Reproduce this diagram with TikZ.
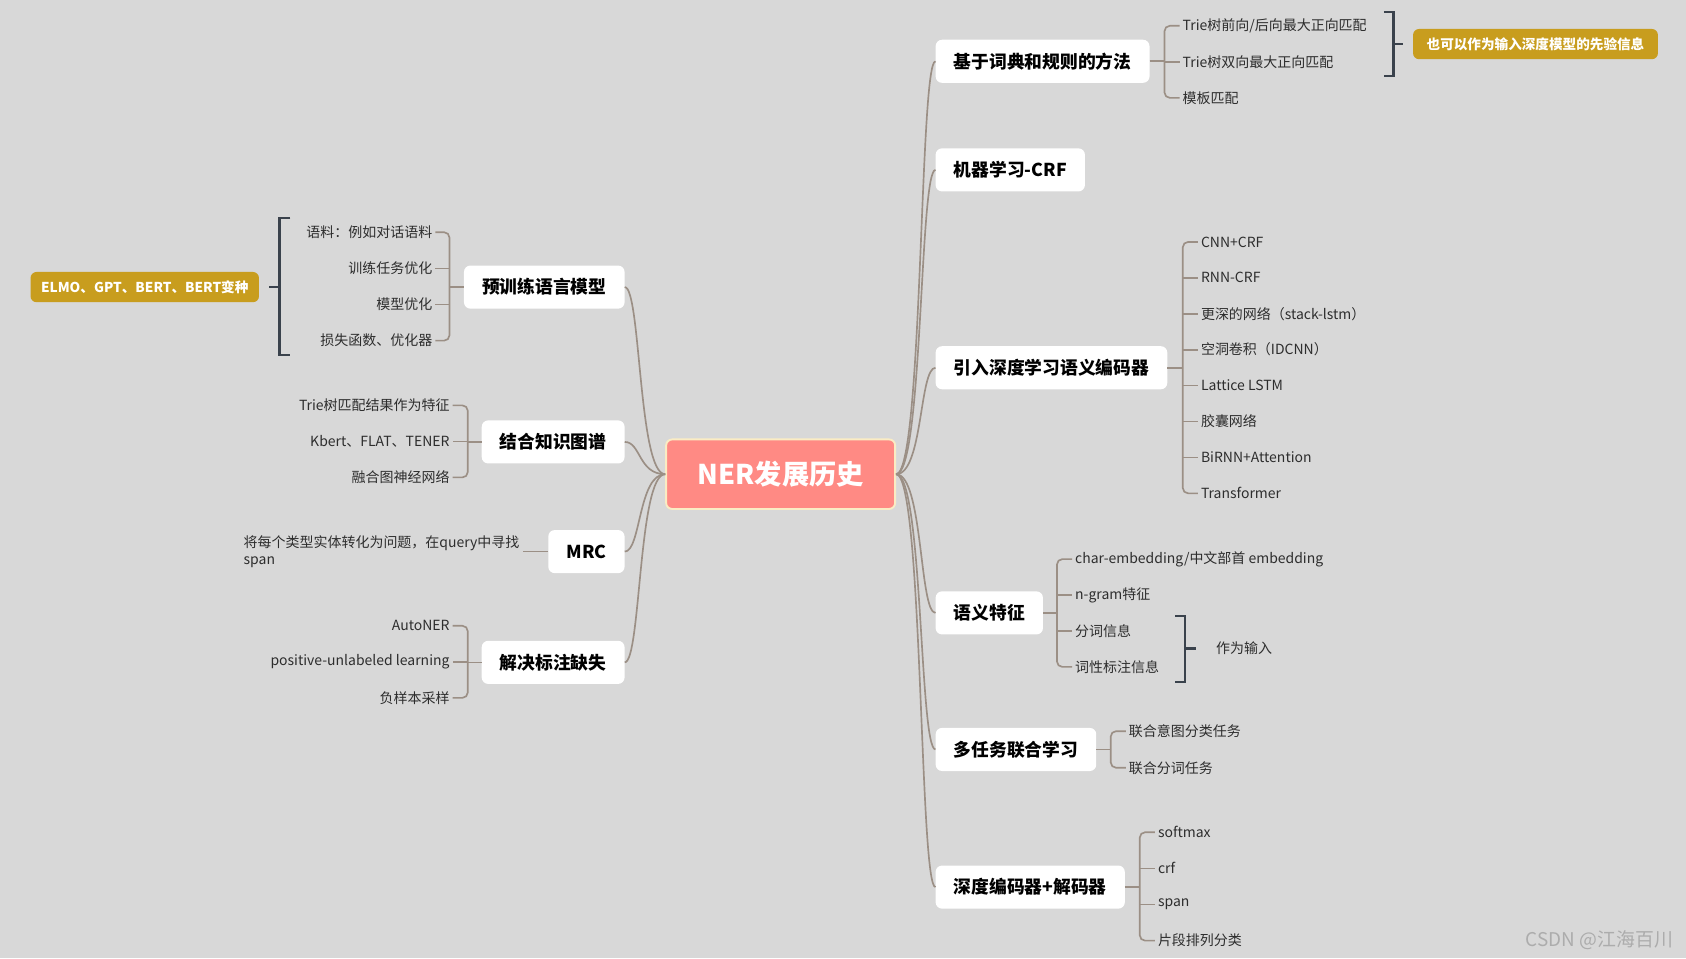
\documentclass[tikz,border=0pt]{standalone}
\usepackage{fontspec}
\setmainfont{Noto Sans CJK SC}
\usetikzlibrary{calc}
\definecolor{bg}{RGB}{216,216,216}
\definecolor{rootfill}{RGB}{255,138,132}
\definecolor{rootline}{RGB}{250,236,196}
\definecolor{linkcol}{RGB}{155,143,133}
\definecolor{sumcol}{RGB}{58,66,76}
\definecolor{gold}{RGB}{200,157,30}
\definecolor{leafcol}{RGB}{45,45,45}
\definecolor{wmcol}{RGB}{172,172,172}
\tikzset{
  root/.style = {fill=rootfill, draw=rootline, line width=2.5pt, rounded corners=8pt,
    minimum width=303pt, minimum height=92pt, text=white,
    font=\fontsize{36}{40}\selectfont\bfseries},
  branch/.style = {fill=white, rounded corners=8.5pt, minimum height=57pt,
    inner xsep=24pt, text=black, font=\fontsize{23.5}{28}\selectfont\bfseries},
  leaf/.style = {inner xsep=4pt, inner ysep=0pt, text=leafcol,
    font=\fontsize{18.5}{22.8}\selectfont},
  tag/.style = {fill=gold, rounded corners=8pt, minimum height=40pt, inner xsep=18pt,
    text=white, font=\fontsize{18}{22}\selectfont\bfseries},
  link/.style = {draw=linkcol, line width=2.2pt, rounded corners=7pt},
  summary/.style = {draw=sumcol, line width=3pt},
  wmark/.style = {text=wmcol, inner sep=0pt, font=\fontsize{25}{28}\selectfont}
}

\begin{document}
\begin{tikzpicture}[x=0.05cm,y=-0.05cm]
  % background
  \fill[bg] (0,0) rectangle (1568,891);
  \useasboundingbox (0,0) rectangle (1568,891);
  % root
  \node[root] (root) at (726,441) {NER发展历史};
  % main branches, right
  \node[branch,anchor=west] (dict)   at (870,57)  {基于词典和规则的方法};
  \node[branch,anchor=west] (crf)    at (870,158) {机器学习-CRF};
  \node[branch,anchor=west] (deep)   at (870,342) {引入深度学习语义编码器};
  \node[branch,anchor=west] (feat)   at (870,570) {语义特征};
  \node[branch,anchor=west] (multi)  at (870,697) {多任务联合学习};
  \node[branch,anchor=west] (encdec) at (870,825) {深度编码器+解码器};
  % main branches, left
  \node[branch,anchor=east] (plm)  at (581,267) {预训练语言模型};
  \node[branch,anchor=east] (kg)   at (581,411) {结合知识图谱};
  \node[branch,anchor=east] (mrc)  at (581,513) {MRC};
  \node[branch,anchor=east] (miss) at (581,616) {解决标注缺失};
  % curves from root
  \foreach \b in {dict,crf,deep,feat,multi,encdec}
    \draw[link] (root.east) .. controls ($(root.east)+(25,0)$) and ($(\b.west)+(-15,0)$) .. (\b.west);
  \foreach \b in {plm,kg,mrc,miss}
    \draw[link] (root.west) .. controls ($(root.west)+(-25,0)$) and ($(\b.east)+(15,0)$) .. (\b.east);

  % leaves, right
  \foreach \t [count=\i] in {Trie树前向/后向最大正向匹配,Trie树双向最大正向匹配,模板匹配}
    \node[leaf,anchor=west] (dict\i) at (1097,{24+33.5*(\i-1)}) {\t};
  \foreach \t [count=\i] in {CNN+CRF,RNN-CRF,更深的网络（stack-lstm）,空洞卷积（IDCNN）,Lattice LSTM,胶囊网络,BiRNN+Attention,Transformer}
    \node[leaf,anchor=west] (deep\i) at (1114,{225+33.4*(\i-1)}) {\t};
  \foreach \t [count=\i] in {char-embedding/中文部首 embedding,n-gram特征,分词信息,词性标注信息}
    \node[leaf,anchor=west] (feat\i) at (997,{520+33.4*(\i-1)}) {\t};
  \foreach \t [count=\i] in {联合意图分类任务,联合分词任务}
    \node[leaf,anchor=west] (multi\i) at (1047,{680+34*(\i-1)}) {\t};
  \foreach \t [count=\i] in {softmax,crf,span,片段排列分类}
    \node[leaf,anchor=west] (encdec\i) at (1074,{774+33.6*(\i-1)}) {\t};
  % leaves, left
  \foreach \t [count=\i] in {语料：例如对话语料,训练任务优化,模型优化,损失函数、优化器}
    \node[leaf,anchor=east] (plm\i) at (405,{216+33.6*(\i-1)}) {\t};
  \foreach \t [count=\i] in {Trie树匹配结果作为特征,Kbert、FLAT、TENER,融合图神经网络}
    \node[leaf,anchor=east] (kg\i) at (421,{377+33.5*(\i-1)}) {\t};
  \foreach \t [count=\i] in {AutoNER,positive-unlabeled learning,负样本采样}
    \node[leaf,anchor=east] (miss\i) at (421,{582+33.5*(\i-1)}) {\t};
  \node[leaf,anchor=east,align=left] (mrc1) at (486,513) {将每个类型实体转化为问题，在query中寻找\\span};

  % junctions
  \coordinate (jdict)   at (1083,57);
  \coordinate (jdeep)   at (1100,342);
  \coordinate (jfeat)   at (983,570);
  \coordinate (jmulti)  at (1033,697);
  \coordinate (jencdec) at (1060,825);
  \coordinate (jplm)    at (418,267);
  \coordinate (jkg)     at (435,411);
  \coordinate (jmiss)   at (435,616);
  % brackets of leaves
  \draw[link] (dict.east) -- (jdict);
  \draw[link] (dict1.west) -| (jdict) |- (dict3.west);
  \draw[link] (jdict |- dict2.west) -- (dict2.west);
  \draw[link] (deep.east) -- (jdeep);
  \draw[link] (deep1.west) -| (jdeep) |- (deep8.west);
  \foreach \i in {2,...,7} \draw[link] (jdeep |- deep\i.west) -- (deep\i.west);
  \draw[link] (feat.east) -- (jfeat);
  \draw[link] (feat1.west) -| (jfeat) |- (feat4.west);
  \foreach \i in {2,3} \draw[link] (jfeat |- feat\i.west) -- (feat\i.west);
  \draw[link] (multi.east) -- (jmulti);
  \draw[link] (multi1.west) -| (jmulti) |- (multi2.west);
  \draw[link] (encdec.east) -- (jencdec);
  \draw[link] (encdec1.west) -| (jencdec) |- (encdec4.west);
  \foreach \i in {2,3} \draw[link] (jencdec |- encdec\i.west) -- (encdec\i.west);
  \draw[link] (plm.west) -- (jplm);
  \draw[link] (plm1.east) -| (jplm) |- (plm4.east);
  \foreach \i in {2,3} \draw[link] (jplm |- plm\i.east) -- (plm\i.east);
  \draw[link] (kg.west) -- (jkg);
  \draw[link] (kg1.east) -| (jkg) |- (kg3.east);
  \draw[link] (jkg |- kg2.east) -- (kg2.east);
  \draw[link] (miss.west) -- (jmiss);
  \draw[link] (miss1.east) -| (jmiss) |- (miss3.east);
  \draw[link] (jmiss |- miss2.east) -- (miss2.east);
  \draw[link] (mrc.west) -- (mrc1.east);

  % summaries
  \node[tag,anchor=west] (tagdict) at (1314,41) {也可以作为输入深度模型的先验信息};
  \node[tag,anchor=east,inner xsep=14pt] (tagplm) at (241,267) {ELMO、GPT、BERT、BERT变种};
  \node[leaf,anchor=west] (featnote) at (1128,603) {作为输入};
  \draw[summary] (1287,11) -- (1296,11) -- (1296,71) -- (1287,71);
  \coordinate (sdict) at (1296,41);
  \draw[summary] (sdict) -- ++(9,0);
  \draw[summary] (1093,573) -- (1102,573) -- (1102,634) -- (1093,634);
  \coordinate (sfeat) at (1102,603);
  \draw[summary] (sfeat) -- ++(10,0);
  \draw[summary] (270,203) -- (260,203) -- (260,330) -- (270,330);
  \coordinate (splm) at (260,267);
  \draw[summary] (splm) -- ++(-10,0);

  % watermark
  \node[wmark,anchor=east] (wm) at (1556,874) {CSDN @江海百川};
\end{tikzpicture}
\end{document}
